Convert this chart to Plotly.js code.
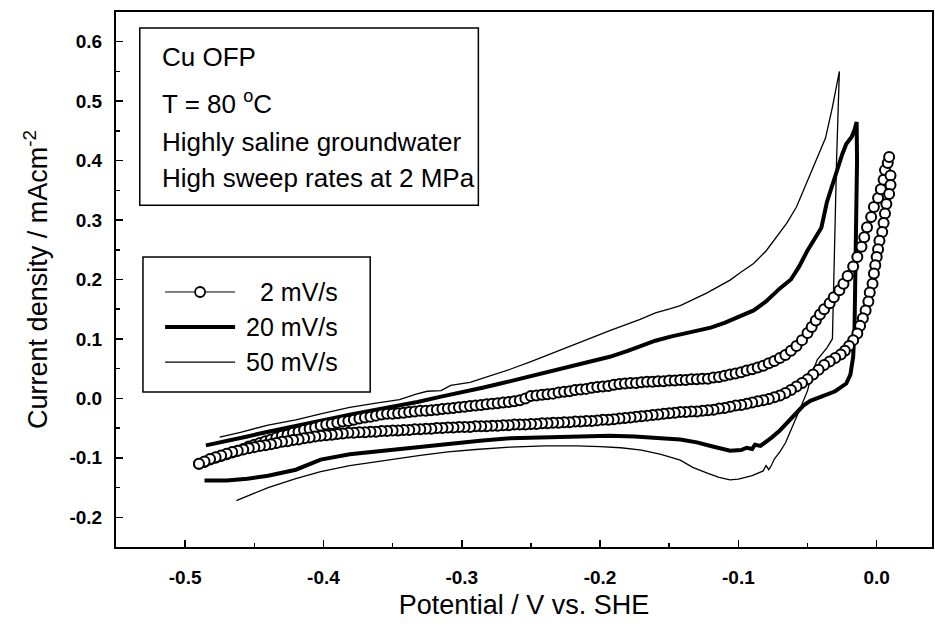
<!DOCTYPE html>
<html>
<head>
<meta charset="utf-8">
<script src="https://cdn.plot.ly/plotly-3.0.1.min.js"></script>
<style>html,body{margin:0;padding:0;background:#fff;}#chart{width:935px;height:630px;}</style>
</head>
<body>
<div id="chart"></div>
<script>
// ---- 2 mV/s : anodic (forward) branch ----
const cv2FwdX = [
-0.490,-0.486,-0.482,-0.478,-0.474,-0.470,-0.466,-0.462,-0.458,-0.454,
-0.450,-0.446,-0.442,-0.438,-0.434,-0.430,-0.426,-0.422,-0.418,-0.414,
-0.410,-0.406,-0.402,-0.398,-0.394,-0.390,-0.386,-0.382,-0.378,-0.374,
-0.370,-0.366,-0.362,-0.358,-0.354,-0.350,-0.346,-0.342,-0.338,-0.334,
-0.330,-0.326,-0.322,-0.318,-0.314,-0.310,-0.306,-0.302,-0.298,-0.294,
-0.290,-0.286,-0.282,-0.278,-0.274,-0.270,-0.266,-0.262,-0.258,-0.254,
-0.250,-0.246,-0.242,-0.238,-0.234,-0.230,-0.226,-0.222,-0.218,-0.214,
-0.210,-0.206,-0.202,-0.198,-0.194,-0.190,-0.186,-0.182,-0.178,-0.174,
-0.170,-0.166,-0.162,-0.158,-0.154,-0.150,-0.146,-0.142,-0.138,-0.134,
-0.130,-0.126,-0.122,-0.118,-0.114,-0.110,-0.106,-0.102,-0.098,-0.094,
-0.090,-0.086,-0.082,-0.078,-0.074,-0.070,-0.066,-0.062,-0.058,-0.054,
-0.050,-0.047,-0.044,-0.041,-0.038,-0.034,-0.031,-0.027,-0.024,-0.021,
-0.017,-0.014,-0.011,-0.009,-0.007,-0.004,-0.002,0.001,0.003,0.005,
0.006,0.008,0.009];
const cv2FwdY = [
-0.110,-0.107,-0.103,-0.100,-0.097,-0.094,-0.091,-0.088,-0.085,-0.081,
-0.078,-0.075,-0.072,-0.069,-0.066,-0.063,-0.061,-0.058,-0.056,-0.053,
-0.051,-0.049,-0.046,-0.044,-0.043,-0.041,-0.039,-0.038,-0.036,-0.034,
-0.032,-0.031,-0.029,-0.027,-0.026,-0.026,-0.025,-0.024,-0.023,-0.022,
-0.021,-0.021,-0.020,-0.019,-0.018,-0.017,-0.016,-0.015,-0.014,-0.013,
-0.012,-0.011,-0.010,-0.009,-0.008,-0.007,-0.006,-0.005,-0.003,0.000,
0.004,0.005,0.006,0.007,0.008,0.010,0.011,0.012,0.014,0.015,
0.016,0.018,0.019,0.020,0.021,0.023,0.024,0.025,0.026,0.026,
0.027,0.028,0.028,0.029,0.029,0.030,0.030,0.031,0.031,0.032,
0.032,0.033,0.033,0.035,0.036,0.038,0.040,0.042,0.044,0.047,
0.049,0.052,0.055,0.059,0.063,0.068,0.073,0.080,0.088,0.098,
0.110,0.120,0.131,0.141,0.150,0.160,0.170,0.182,0.193,0.206,
0.222,0.238,0.255,0.271,0.288,0.305,0.322,0.337,0.352,0.368,
0.384,0.396,0.406];
// ---- 2 mV/s : reverse branch ----
const cv2RevX = [
0.010,0.010,0.009,0.007,0.006,0.005,0.004,0.002,0.001,0.000,
-0.001,-0.002,-0.003,-0.005,-0.006,-0.008,-0.010,-0.012,-0.014,-0.017,
-0.020,-0.023,-0.026,-0.030,-0.034,-0.038,-0.042,-0.046,-0.050,
-0.054,-0.058,-0.062,-0.066,-0.070,-0.074,-0.078,-0.082,-0.086,-0.090,
-0.094,-0.098,-0.102,-0.106,-0.110,-0.114,-0.118,-0.122,-0.126,-0.130,
-0.134,-0.138,-0.142,-0.146,-0.150,-0.154,-0.158,-0.162,-0.166,-0.170,
-0.174,-0.178,-0.182,-0.186,-0.190,-0.194,-0.198,-0.202,-0.206,-0.210,
-0.214,-0.218,-0.222,-0.226,-0.230,-0.234,-0.238,-0.242,-0.246,-0.250,
-0.254,-0.258,-0.262,-0.266,-0.270,-0.274,-0.278,-0.282,-0.286,-0.290,
-0.294,-0.298,-0.302,-0.306,-0.310,-0.314,-0.318,-0.322,-0.326,-0.330,
-0.334,-0.338,-0.342,-0.346,-0.350,-0.354,-0.358,-0.362,-0.366,-0.370,
-0.374,-0.378,-0.382,-0.386,-0.390,-0.394,-0.398,-0.402,-0.406,-0.410,
-0.414,-0.418,-0.422,-0.426,-0.430,-0.434,-0.438,-0.442,-0.446,-0.450,
-0.454,-0.458,-0.462,-0.466,-0.470,-0.474,-0.478,-0.482,-0.486,-0.490];
const cv2RevY = [
0.375,0.359,0.344,0.327,0.311,0.295,0.280,0.265,0.251,0.238,
0.224,0.210,0.193,0.178,0.163,0.148,0.135,0.122,0.109,0.098,
0.088,0.080,0.074,0.068,0.062,0.056,0.048,0.040,0.032,
0.026,0.020,0.014,0.009,0.005,0.002,-0.001,-0.003,-0.005,-0.007,
-0.009,-0.011,-0.012,-0.014,-0.016,-0.017,-0.019,-0.020,-0.021,-0.022,
-0.022,-0.023,-0.023,-0.024,-0.025,-0.026,-0.027,-0.028,-0.029,-0.030,
-0.031,-0.032,-0.033,-0.034,-0.035,-0.036,-0.036,-0.037,-0.038,-0.038,
-0.039,-0.039,-0.040,-0.040,-0.041,-0.041,-0.042,-0.042,-0.043,-0.043,
-0.044,-0.044,-0.044,-0.045,-0.045,-0.046,-0.046,-0.047,-0.047,-0.047,
-0.048,-0.048,-0.048,-0.049,-0.049,-0.050,-0.050,-0.051,-0.051,-0.052,
-0.052,-0.053,-0.053,-0.054,-0.054,-0.055,-0.055,-0.056,-0.056,-0.057,
-0.057,-0.058,-0.058,-0.059,-0.060,-0.061,-0.062,-0.063,-0.064,-0.066,
-0.067,-0.069,-0.070,-0.072,-0.073,-0.075,-0.077,-0.079,-0.080,-0.082,
-0.084,-0.086,-0.088,-0.090,-0.093,-0.096,-0.099,-0.102,-0.106,-0.110];

// ---- 20 mV/s ----
const cv20X = [
-0.485,-0.470,-0.455,-0.440,-0.420,-0.400,-0.380,-0.360,-0.345,-0.332,
-0.315,-0.300,-0.285,-0.272,-0.255,-0.240,-0.225,-0.212,-0.193,-0.180,
-0.171,-0.160,-0.149,-0.135,-0.120,-0.110,-0.099,-0.089,-0.080,-0.070,
-0.062,-0.056,-0.050,-0.044,-0.040,-0.036,-0.030,-0.025,-0.022,-0.018,
-0.016,-0.0145,
-0.0142,-0.015,-0.016,-0.017,-0.019,-0.022,-0.030,-0.040,-0.048,-0.053,
-0.058,-0.064,-0.070,-0.076,-0.080,-0.084,-0.088,-0.090,-0.094,-0.098,
-0.106,-0.112,-0.120,-0.130,-0.142,-0.156,-0.175,-0.193,-0.215,-0.240,
-0.265,-0.285,-0.310,-0.330,-0.355,-0.381,-0.402,-0.420,-0.440,-0.455,
-0.470,-0.486];
const cv20Y = [
-0.079,-0.072,-0.064,-0.056,-0.046,-0.037,-0.027,-0.018,-0.012,-0.006,
0.003,0.010,0.018,0.025,0.035,0.043,0.051,0.059,0.070,0.080,
0.088,0.097,0.104,0.111,0.119,0.127,0.138,0.148,0.163,0.185,
0.200,0.222,0.249,0.270,0.287,0.330,0.375,0.410,0.428,0.440,
0.452,0.465,
0.400,0.250,0.120,0.070,0.040,0.025,0.012,0.003,-0.004,-0.012,
-0.025,-0.040,-0.054,-0.066,-0.074,-0.080,-0.078,-0.085,-0.083,-0.087,
-0.088,-0.085,-0.080,-0.074,-0.069,-0.067,-0.064,-0.063,-0.064,-0.065,
-0.067,-0.071,-0.077,-0.083,-0.088,-0.094,-0.103,-0.120,-0.130,-0.135,
-0.138,-0.138];

// ---- 50 mV/s ----
const cv50X = [
-0.475,-0.460,-0.440,-0.420,-0.402,-0.381,-0.362,-0.345,-0.333,-0.325,
-0.315,-0.308,-0.294,-0.280,-0.265,-0.250,-0.236,-0.215,-0.193,-0.171,
-0.160,-0.149,-0.142,-0.123,-0.106,-0.099,-0.089,-0.080,-0.072,-0.065,
-0.058,-0.050,-0.043,-0.037,-0.032,-0.027,
-0.029,-0.031,-0.032,-0.036,-0.043,-0.047,-0.050,-0.054,-0.058,-0.062,
-0.066,-0.070,-0.074,-0.076,-0.078,-0.080,-0.082,-0.090,-0.100,-0.106,
-0.114,-0.122,-0.133,-0.142,-0.156,-0.170,-0.185,-0.200,-0.217,-0.240,
-0.265,-0.290,-0.310,-0.330,-0.355,-0.381,-0.402,-0.420,-0.440,-0.463];
const cv50Y = [
-0.065,-0.057,-0.045,-0.036,-0.026,-0.015,-0.008,-0.002,0.007,0.012,
0.013,0.022,0.027,0.037,0.049,0.062,0.075,0.094,0.114,0.133,
0.144,0.151,0.156,0.177,0.199,0.211,0.227,0.248,0.272,0.295,
0.322,0.365,0.405,0.438,0.490,0.550,
0.400,0.220,0.100,0.085,0.065,0.040,0.013,-0.010,-0.031,-0.052,
-0.075,-0.090,-0.102,-0.112,-0.120,-0.113,-0.122,-0.130,-0.136,-0.137,
-0.133,-0.126,-0.116,-0.104,-0.094,-0.087,-0.083,-0.081,-0.080,-0.080,
-0.082,-0.086,-0.090,-0.096,-0.104,-0.113,-0.123,-0.135,-0.150,-0.172];

const xTickVals = [-0.5,-0.4,-0.3,-0.2,-0.1,0.0];
const xTickText = ['-0.5','-0.4','-0.3','-0.2','-0.1','0.0'];
const yTickVals = [-0.2,-0.1,0.0,0.1,0.2,0.3,0.4,0.5,0.6];
const yTickText = ['-0.2','-0.1','0.0','0.1','0.2','0.3','0.4','0.5','0.6'];
const seriesNames = ['2 mV/s','20 mV/s','50 mV/s'];
const infoLines = ['Cu OFP','T = 80 <sup>o</sup>C','Highly saline groundwater','High sweep rates at 2 MPa'];

const FONT = 'Liberation Sans, Arial, Helvetica, sans-serif';

const traces = [
  {x: cv50X, y: cv50Y, mode:'lines', name: seriesNames[2],
   line:{color:'black', width:1.3}},
  {x: cv20X, y: cv20Y, mode:'lines', name: seriesNames[1],
   line:{color:'black', width:4}},
  {x: cv2FwdX.concat(cv2RevX), y: cv2FwdY.concat(cv2RevY), mode:'lines+markers', name: seriesNames[0],
   line:{color:'black', width:1},
   marker:{symbol:'circle', size:10, color:'white', line:{color:'black', width:2}}}
];

const axisCommon = {
  showline:true, linecolor:'black', linewidth:2, mirror:true,
  showgrid:false, zeroline:false,
  ticks:'inside', ticklen:7, tickwidth:1.5, tickcolor:'black',
  tickfont:{family:FONT, size:19, color:'black', weight:'bold'},
};

const annotations = [];
const infoY = [0.574, 0.497, 0.431, 0.370];
infoLines.forEach((t,i)=>annotations.push({xref:'x', yref:'y', x:-0.518, y:infoY[i], text:t,
  showarrow:false, xanchor:'left', yanchor:'middle', font:{family:FONT, size:26, color:'black'}}));
const legY = [0.179, 0.120, 0.061];
seriesNames.forEach((t,i)=>annotations.push({xref:'x', yref:'y', x:-0.388, y:legY[i], text:t,
  showarrow:false, xanchor:'right', yanchor:'middle', font:{family:FONT, size:25, color:'black'}}));

const shapes = [
  {type:'rect', xref:'x', yref:'y', x0:-0.5328, x1:-0.288, y0:0.325, y1:0.623, line:{color:'black', width:1.5}, fillcolor:'white'},
  {type:'rect', xref:'x', yref:'y', x0:-0.5305, x1:-0.3662, y0:0.0106, y1:0.238, line:{color:'black', width:1.5}, fillcolor:'white'},
  {type:'line', xref:'x', yref:'y', x0:-0.5145, x1:-0.4639, y0:legY[0], y1:legY[0], line:{color:'black', width:1}},
  {type:'circle', xref:'x', yref:'y', xsizemode:'pixel', ysizemode:'pixel', xanchor:-0.4892, yanchor:legY[0],
   x0:-5, x1:5, y0:-5, y1:5, line:{color:'black', width:1.8}, fillcolor:'white'},
  {type:'line', xref:'x', yref:'y', x0:-0.5145, x1:-0.4639, y0:legY[1], y1:legY[1], line:{color:'black', width:4}},
  {type:'line', xref:'x', yref:'y', x0:-0.5145, x1:-0.4639, y0:legY[2], y1:legY[2], line:{color:'black', width:1.3}}
];

const layout = {
  width:935, height:630,
  margin:{l:116, r:3, t:12, b:83},
  paper_bgcolor:'white', plot_bgcolor:'white',
  showlegend:false,
  font:{family:FONT, color:'black'},
  xaxis: Object.assign({}, axisCommon, {
    range:[-0.55, 0.04], tickmode:'array', tickvals:xTickVals, ticktext:xTickText,
    ticklabelstandoff:12,
    minor:{tickmode:'linear', tick0:0, dtick:0.05, ticks:'inside', ticklen:4, tickwidth:1.5, tickcolor:'black'},
    title:{text:'Potential / V vs. SHE', font:{family:FONT, size:27, color:'black'}, standoff:8}
  }),
  yaxis: Object.assign({}, axisCommon, {
    range:[-0.25, 0.65], tickmode:'array', tickvals:yTickVals, ticktext:yTickText,
    ticklabelstandoff:8,
    minor:{tickmode:'linear', tick0:0, dtick:0.05, ticks:'inside', ticklen:4, tickwidth:1.5, tickcolor:'black'},
    title:{text:'Current density / mAcm<sup>-2</sup>', font:{family:FONT, size:27, color:'black'}, standoff:14}
  }),
  annotations: annotations,
  shapes: shapes
};

Plotly.newPlot('chart', traces, layout, {displayModeBar:false, staticPlot:true});
</script>
</body>
</html>
